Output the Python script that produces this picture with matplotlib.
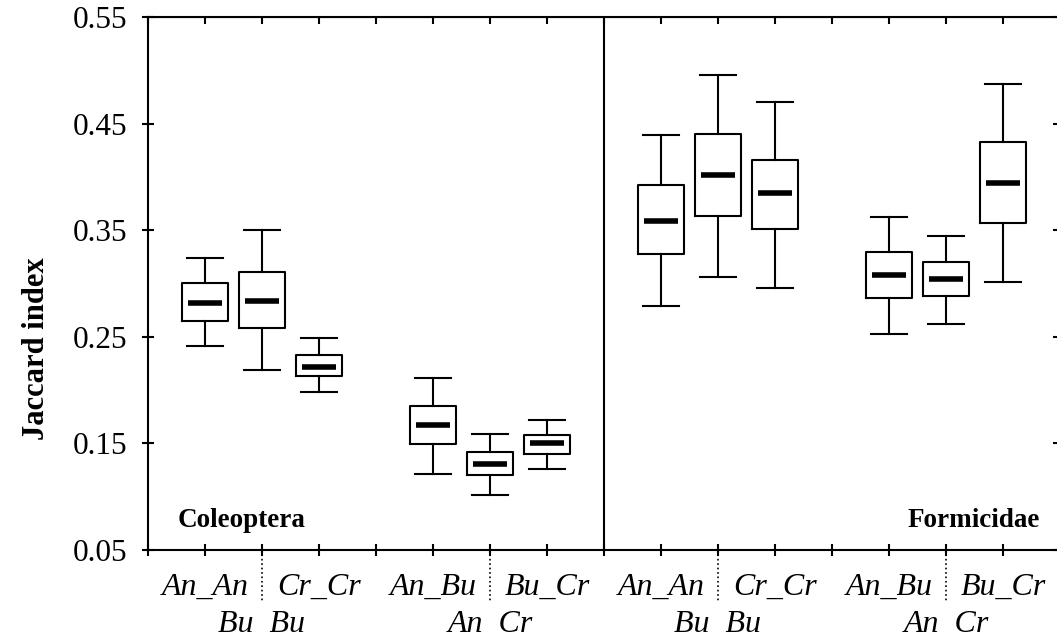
import numpy as np
import matplotlib.pyplot as plt
import matplotlib.transforms as mtransforms

plt.rcParams['font.family'] = 'Liberation Serif'

# box positions on the x scale (gaps at 4, 8, 12)
positions = [1, 2, 3, 5, 6, 7, 9, 10, 11, 13, 14, 15]
labels = ['An_An', 'Bu  Bu', 'Cr_Cr', 'An_Bu', 'An  Cr', 'Bu_Cr'] * 2
label_row = [0, 1, 0, 0, 1, 0] * 2

whislo = [0.241, 0.219, 0.198, 0.121, 0.102, 0.126, 0.279, 0.306, 0.296, 0.253, 0.262, 0.301]
q1 = [0.265, 0.258, 0.213, 0.149, 0.120, 0.140, 0.328, 0.363, 0.351, 0.286, 0.288, 0.357]
med = [0.282, 0.284, 0.222, 0.167, 0.131, 0.150, 0.359, 0.402, 0.385, 0.308, 0.304, 0.394]
q3 = [0.300, 0.311, 0.233, 0.185, 0.142, 0.158, 0.392, 0.440, 0.416, 0.330, 0.320, 0.433]
whishi = [0.324, 0.350, 0.249, 0.211, 0.159, 0.172, 0.439, 0.496, 0.470, 0.362, 0.345, 0.487]

groups = ['Coleoptera', 'Formicidae']

stats = []
for i in range(len(positions)):
    stats.append({'whislo': whislo[i], 'q1': q1[i], 'med': med[i],
                  'q3': q3[i], 'whishi': whishi[i], 'fliers': []})

fig = plt.figure(figsize=(10.57, 6.39), dpi=100)
ax = fig.add_axes([148 / 1057, 1 - 550 / 639, 912 / 1057, 533 / 639])

lw = 1.5
ax.bxp(stats, positions=positions, widths=0.81, capwidths=0.62, showfliers=False,
       boxprops=dict(color='black', linewidth=lw),
       whiskerprops=dict(color='black', linewidth=lw),
       capprops=dict(color='black', linewidth=lw),
       medianprops=dict(linewidth=0))
pos = np.array(positions)
ax.hlines(med, pos - 0.29, pos + 0.29, colors='black', linewidth=4, zorder=3)

ax.set_xlim(0, 16)
ax.set_ylim(0.05, 0.55)
ax.axvline(8, color='black', linewidth=lw)

for s in ax.spines.values():
    s.set_linewidth(lw)

ax.set_xticks(range(17))
ax.set_xticklabels([])
ax.set_yticks([0.05, 0.15, 0.25, 0.35, 0.45, 0.55])
ax.set_yticklabels(['0.05', '0.15', '0.25', '0.35', '0.45', '0.55'])
ax.tick_params(axis='x', direction='inout', length=8, width=lw)
ax.tick_params(axis='y', direction='inout', length=8, width=lw, labelsize=22.5, pad=11)

top = ax.secondary_xaxis('top')
top.set_xticks(range(17))
top.tick_params(direction='in', length=5, width=lw, labeltop=False)
right = ax.secondary_yaxis('right')
right.set_yticks([0.05, 0.15, 0.25, 0.35, 0.45, 0.55])
right.tick_params(direction='in', length=5, width=lw, labelright=False)

trans = mtransforms.blended_transform_factory(ax.transData, ax.transAxes)
for p, lab, r in zip(positions, labels, label_row):
    y = -0.0844 if r == 0 else -0.154
    ax.text(p, y, lab, transform=trans, ha='center', va='baseline',
            fontsize=23, style='italic', clip_on=False)

for p in [2, 6, 10, 14]:
    ax.plot([p, p], [0, -0.0994], transform=trans, color='black',
            linestyle=':', linewidth=1.2, clip_on=False)

ax.text(178 / 1057, 1 - 527 / 639, groups[0], transform=fig.transFigure,
        fontsize=19.5, fontweight='bold', ha='left', va='baseline')
ax.text(1040 / 1057, 1 - 527 / 639, groups[1], transform=fig.transFigure,
        fontsize=19.5, fontweight='bold', ha='right', va='baseline')

fig.text(36 / 1057, 1 - 349 / 639, 'Jaccard index', rotation=90,
         fontsize=22, fontweight='bold', ha='center', va='center')

fig.savefig('out.png', dpi=100)
